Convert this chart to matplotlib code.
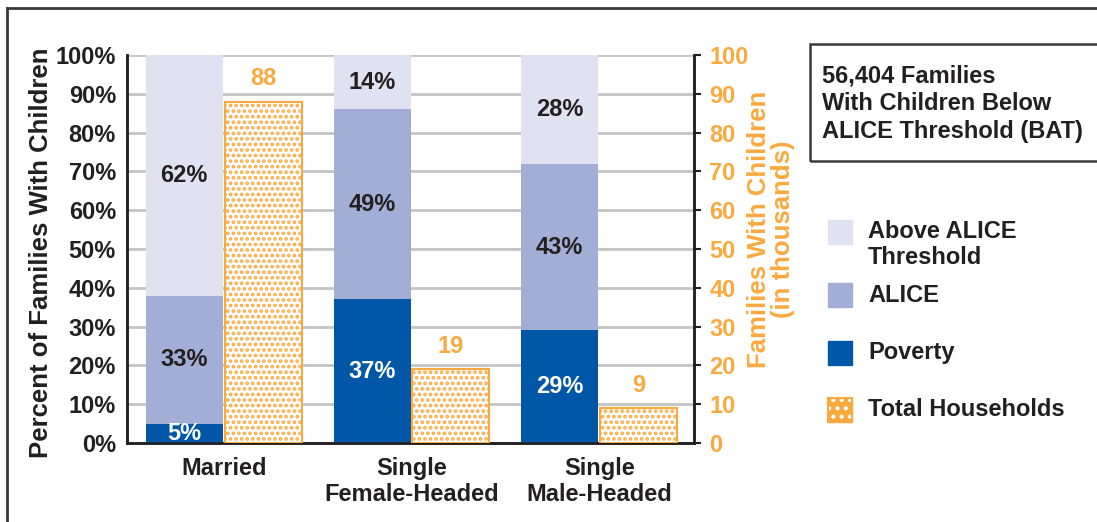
import matplotlib.pyplot as plt
import matplotlib.patches as mpatches
import numpy as np

plt.rcParams['font.family'] = ['Liberation Sans', 'DejaVu Sans']
plt.rcParams['font.weight'] = 'bold'
plt.rcParams['axes.labelweight'] = 'bold'
plt.rcParams['hatch.linewidth'] = 1.8

categories = ['Married', 'Single\nFemale-Headed', 'Single\nMale-Headed']
poverty = [5, 37, 29]
alice = [33, 49, 43]
above = [62, 14, 28]
total_hh = [88, 19, 9]  # thousands

c_above = '#E0E2F1'
c_alice = '#A3AED6'
c_pov = '#0057A8'
c_orange = '#FAA93F'
c_text = '#231F20'
fs = 17
fs_lab = 18.5

fig = plt.figure(figsize=(10.97, 5.22), dpi=100)
ax = fig.add_axes([127/1097, 79/522, 567/1097, 388/522])
ax2 = ax.twinx()

x = np.arange(len(categories))
w = 0.41
off = 0.21

bot2 = np.array(poverty) + np.array(alice)
ax.bar(x - off, poverty, w, color=c_pov, zorder=3)
ax.bar(x - off, alice, w, bottom=poverty, color=c_alice, zorder=3)
ax.bar(x - off, above, w, bottom=bot2, color=c_above, zorder=3)

ax2.bar(x + off, total_hh, w, facecolor='white', edgecolor=c_orange,
        hatch='...', linewidth=1.5, zorder=3)

# segment labels
for i in range(len(categories)):
    ax.text(x[i] - off, poverty[i] / 2, f'{poverty[i]}%', ha='center', va='center',
            color='white', fontsize=fs, zorder=5)
    ax.text(x[i] - off, poverty[i] + alice[i] / 2, f'{alice[i]}%', ha='center',
            va='center', color=c_text, fontsize=fs, zorder=5)
    ax.text(x[i] - off, bot2[i] + above[i] / 2, f'{above[i]}%', ha='center',
            va='center', color=c_text, fontsize=fs, zorder=5)
    ax2.annotate(f'{total_hh[i]}', (x[i] + off, total_hh[i]), xytext=(0, 8),
                 textcoords='offset points', ha='center', va='bottom',
                 color=c_orange, fontsize=fs)

ax.set_xlim(-0.515, 2.505)
ax.set_ylim(0, 100)
ax2.set_ylim(0, 100)
ax.set_yticks(np.arange(0, 101, 10))
ax.set_yticklabels([f'{v}%' for v in range(0, 101, 10)])
ax2.set_yticks(np.arange(0, 101, 10))
ax.yaxis.grid(True, color='#C4C4C4', linewidth=2, zorder=0)
ax.set_axisbelow(True)

ax.set_xticks(x)
ax.set_xticklabels(categories, linespacing=1.15)
ax.tick_params(axis='x', length=0, pad=10, labelsize=fs, labelcolor=c_text)
ax.tick_params(axis='y', length=0, pad=8, labelsize=fs, labelcolor=c_text)
ax2.tick_params(axis='y', length=5, width=1.5, pad=6, labelsize=fs,
                labelcolor=c_orange, color=c_text)

for a in (ax, ax2):
    a.spines['top'].set_visible(False)
    a.spines['left'].set_linewidth(1.8)
    a.spines['right'].set_linewidth(1.8)
    a.spines['bottom'].set_linewidth(1.8)
    for s in a.spines.values():
        s.set_color(c_text)

ax.set_ylabel('Percent of Families With Children', fontsize=fs_lab, color=c_text)
ax.yaxis.set_label_coords(-0.152, 0.49)
ax.yaxis.label.set_va('center')
ax2.set_ylabel('Families With Children\n(in thousands)', fontsize=fs_lab,
               color=c_orange, linespacing=1.0)
ax2.yaxis.set_label_coords(1.136, 0.55)
ax2.yaxis.label.set_va('center')

# outer frame
fig.add_artist(plt.Line2D([7/1097, 7/1097], [0, 1 - 8/522], color='#3A3A3A', lw=2))
fig.add_artist(plt.Line2D([7/1097, 1], [1 - 8/522, 1 - 8/522], color='#3A3A3A', lw=2))

# summary box
fig.add_artist(mpatches.Rectangle((810/1097, 1 - 161/522), 300/1097, 117/522,
                                  transform=fig.transFigure, fill=False,
                                  edgecolor='#3A3A3A', lw=1.8))
fig.text(822/1097, 1 - 104/522, '56,404 Families\nWith Children Below\nALICE Threshold (BAT)',
         ha='left', va='center', fontsize=fs, color=c_text, linespacing=1.25)

# legend
leg_items = [(c_above, 'Above ALICE\nThreshold', 220), (c_alice, 'ALICE', 283),
             (c_pov, 'Poverty', 341)]
for col, lab, ytop in leg_items:
    fig.add_artist(mpatches.Rectangle((828/1097, 1 - (ytop + 24)/522), 24/1097, 24/522,
                                      transform=fig.transFigure, color=col))
    fig.text(868/1097, 1 - (ytop + 12)/522, lab.split('\n')[0], ha='left', va='center',
             fontsize=fs, color=c_text)
    if '\n' in lab:
        fig.text(868/1097, 1 - (ytop + 38)/522, lab.split('\n')[1], ha='left',
                 va='center', fontsize=fs, color=c_text)

ytop = 398
rect = (828/1097, 1 - (ytop + 24)/522)
fig.add_artist(mpatches.Rectangle(rect, 24/1097, 24/522, transform=fig.transFigure,
                                  facecolor=c_orange, edgecolor=c_orange, lw=1))
fig.add_artist(mpatches.Rectangle(rect, 24/1097, 24/522, transform=fig.transFigure,
                                  fill=False, edgecolor='white', hatch='..', lw=0))
fig.add_artist(mpatches.Rectangle(rect, 24/1097, 24/522, transform=fig.transFigure,
                                  fill=False, edgecolor=c_orange, lw=1.5))
fig.text(868/1097, 1 - (ytop + 12)/522, 'Total Households', ha='left', va='center',
         fontsize=fs, color=c_text)

fig.savefig('out.png', dpi=100)
